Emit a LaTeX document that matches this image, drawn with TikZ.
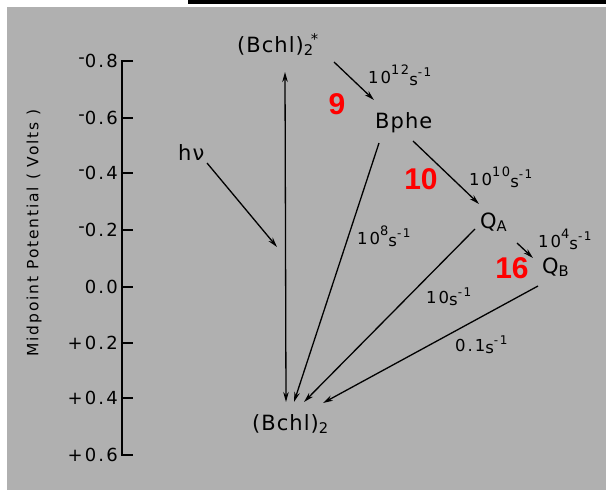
\documentclass[tikz,border=0pt]{standalone}
\usepackage{fontspec}
\setmainfont{DejaVu Sans}[LetterSpace=5]
\newfontfamily\widefont{DejaVu Sans}[LetterSpace=12]
\newfontfamily\redfont{Liberation Sans}
\usetikzlibrary{arrows.meta}
\definecolor{bg}{RGB}{176,176,176}
\definecolor{numred}{RGB}{255,0,0}
\tikzset{
  arr/.style={line width=1.3pt, -{Stealth[length=10pt,width=5.5pt]}},
  dblarr/.style={line width=1.3pt, {Stealth[length=10pt,width=5.5pt]}-{Stealth[length=10pt,width=5.5pt]}},
  lbl/.style={font=\fontsize{21}{21}\selectfont, inner sep=0pt, anchor=base west},
  rate/.style={font=\fontsize{16.5}{16.5}\selectfont\widefont, inner sep=0pt, anchor=base west},
  num/.style={font=\fontsize{30}{30}\selectfont\redfont\bfseries, text=numred, inner sep=0pt},
  ticklbl/.style={font=\fontsize{18}{18}\selectfont\widefont, inner sep=0pt, anchor=east},
  axisline/.style={line width=1.4pt},
}
\newcommand\myrate[2]{#1\raisebox{0.5em}{\fontsize{13}{13}\selectfont #2}\raisebox{-2pt}{s\raisebox{0.5em}{\fontsize{12}{12}\selectfont -1}}}
\newcommand\mns{\raisebox{0.25em}{-}}
\begin{document}
\begin{tikzpicture}[x=1pt,y=-1pt]
\useasboundingbox (0,0) rectangle (606,490);
\fill[white] (0,0) rectangle (606,490);
\fill[black] (188,0) rectangle (606,3.5);
\fill[bg] (7,7) rectangle (606,490);
% axis
\draw[axisline] (133,61) -- (122,61) -- (122,455) -- (133,455);
\foreach \y in {118,173,230,287,343,398} \draw[axisline] (122,\y) -- (133,\y);
\node[ticklbl] (t1) at (118,61) {\mns0.8};
\node[ticklbl] (t2) at (118,118) {\mns0.6};
\node[ticklbl] (t3) at (118,173) {\mns0.4};
\node[ticklbl] (t4) at (118,230) {\mns0.2};
\node[ticklbl] (t5) at (118,287) {0.0};
\node[ticklbl] (t6) at (118,343) {+0.2};
\node[ticklbl] (t7) at (118,398) {+0.4};
\node[ticklbl] (t8) at (118,455) {+0.6};
\node[rotate=90, font=\fontsize{15.5}{15.5}\selectfont\widefont, inner sep=0pt] (ytitle) at (34,233) {Midpoint Potential ( Volts )};
% species
\node[lbl] (bstar) at (237,52) {(Bchl)\textsubscript{2}\kern-3pt\textsuperscript{*}};
\node[lbl] (bphe) at (375,128) {Bphe};
\node[lbl] (qa) at (480,228) {Q\textsubscript{A}};
\node[lbl] (qb) at (542,273) {Q\textsubscript{B}};
\node[lbl] (bchl) at (252,430) {(Bchl)\textsubscript{2}};
\node[lbl] (hv) at (178,160) {hν};
\coordinate (hvend) at (277,247);
% arrows
\draw[arr] ([shift={(97,10)}]bstar.base west) -- ([shift={(-1,-28)}]bphe.base west);
\draw[dblarr] ([shift={(48,20)}]bstar.base west) -- ([shift={(34,-28)}]bchl.base west);
\draw[arr] ([shift={(4,15)}]bphe.base west) -- ([shift={(42,-28)}]bchl.base west);
\draw[arr] ([shift={(38,13)}]bphe.base west) -- ([shift={(-1,-24)}]qa.base west);
\draw[arr] ([shift={(-5,1)}]qa.base west) -- ([shift={(52,-28)}]bchl.base west);
\draw[arr] ([shift={(37,15)}]qa.base west) -- ([shift={(-9,-15)}]qb.base west);
\draw[arr] ([shift={(-4,13)}]qb.base west) -- ([shift={(71,-27)}]bchl.base west);
\draw[arr] ([shift={(29,3)}]hv.base west) -- (hvend);
% rates
\node[rate] (r1) at (368,83) {\myrate{10}{12}};
\node[rate] (r2) at (469,185) {\myrate{10}{10}};
\node[rate] (r3) at (538,247) {\myrate{10}{4}};
\node[rate] (r4) at (357,244) {\myrate{10}{8}};
\node[rate] (r5) at (426,303) {\myrate{10}{}};
\node[rate] (r6) at (455,351) {\myrate{0.1}{}};
% red numbers
\node[num] (n9) at (337,104) {9};
\node[num] (n10) at (421,179) {10};
\node[num] (n16) at (512,268) {16};
\end{tikzpicture}
\end{document}
